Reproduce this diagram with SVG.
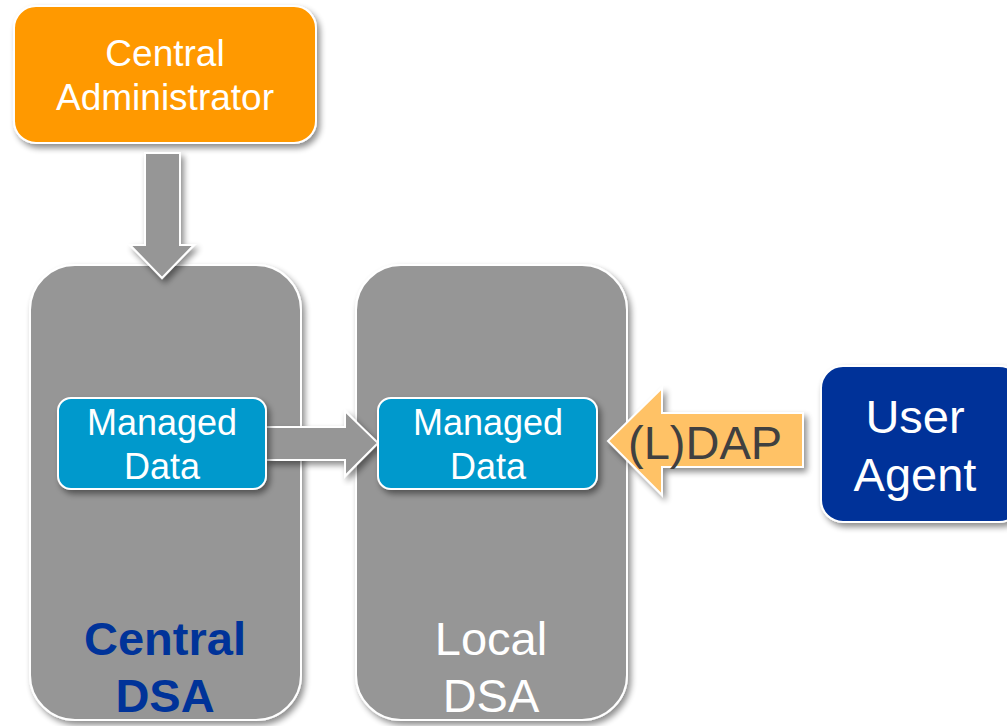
<svg xmlns="http://www.w3.org/2000/svg" width="1007" height="726" viewBox="0 0 1007 726">
<defs>
<filter id="sh" x="-10%" y="-10%" width="125%" height="125%">
<feGaussianBlur in="SourceAlpha" stdDeviation="3"/>
<feOffset dx="3" dy="4" result="b"/>
<feComponentTransfer><feFuncA type="linear" slope="0.45"/></feComponentTransfer>
<feMerge><feMergeNode/><feMergeNode in="SourceGraphic"/></feMerge>
</filter>
</defs>
<style>
.t{font-family:"Liberation Sans",Arial,sans-serif;text-anchor:middle;fill:#fff}
.box{stroke:#fff;stroke-width:2;filter:url(#sh)}
</style>
<rect width="1007" height="726" fill="#fff"/>
<g id="central-dsa">
<rect class="box" x="30" y="265" width="271" height="455" rx="45" fill="#969696"/>
<text class="t" x="165" y="655" font-size="47" font-weight="bold" style="fill:#003399">Central</text>
<text class="t" x="165" y="712" font-size="47" font-weight="bold" style="fill:#003399">DSA</text>
</g>
<g id="local-dsa">
<rect class="box" x="356" y="265" width="271" height="455" rx="45" fill="#969696"/>
<text class="t" x="491" y="655" font-size="47">Local</text>
<text class="t" x="491" y="712" font-size="47">DSA</text>
</g>
<g id="central-admin">
<rect class="box" x="14" y="6" width="302" height="137" rx="22" fill="#FF9900"/>
<text class="t" x="165" y="66" font-size="37">Central</text>
<text class="t" x="165" y="110" font-size="37">Administrator</text>
</g>
<g id="connectors">
<polygon class="box" points="145,153 180,153 180,245 194,245 162,278 130,245 145,245" fill="#969696" stroke-width="1.5"/>
<polygon class="box" points="266,427 345,427 345,411 378,443 345,476 345,460 266,460" fill="#969696" stroke-width="1.5"/>
<polygon class="box" points="803,413 662,413 662,388 608,441 662,495 662,467 803,467" fill="#FFC266" stroke-width="1.5"/>
<text x="628" y="459" font-family="Liberation Sans,Arial,sans-serif" font-size="47" fill="#404040">(L)DAP</text>
</g>
<g id="managed-data-central">
<rect class="box" x="58" y="398" width="208" height="91" rx="13" fill="#0099CC"/>
<text class="t" x="162" y="435" font-size="36">Managed</text>
<text class="t" x="162" y="479" font-size="36">Data</text>
</g>
<g id="managed-data-local">
<rect class="box" x="378" y="398" width="219" height="91" rx="13" fill="#0099CC"/>
<text class="t" x="488" y="435" font-size="36">Managed</text>
<text class="t" x="488" y="479" font-size="36">Data</text>
</g>
<g id="user-agent">
<rect class="box" x="821" y="366" width="200" height="156" rx="22" fill="#003399"/>
<text class="t" x="915" y="433" font-size="47">User</text>
<text class="t" x="915" y="491" font-size="47">Agent</text>
</g>
</svg>
